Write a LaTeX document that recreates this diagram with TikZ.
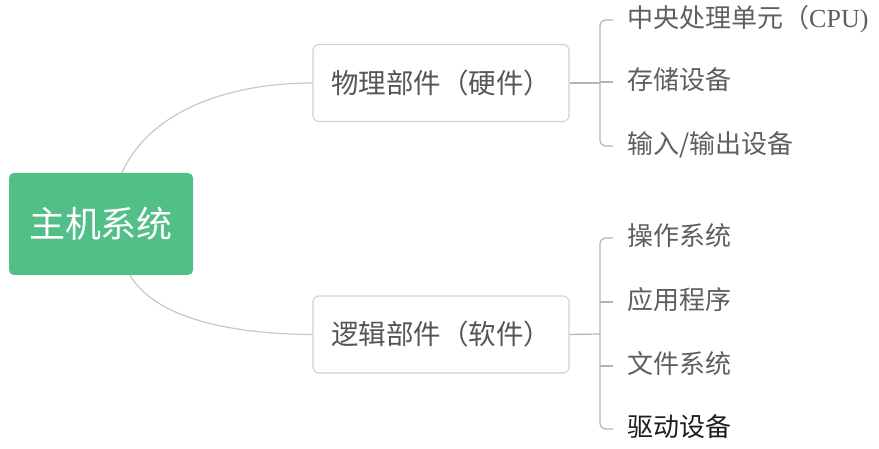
\documentclass[tikz,border=0pt]{standalone}
\usepackage{fontspec}
\setmainfont{Noto Sans CJK SC}
\newfontfamily\cjk{Noto Sans CJK SC}
\newfontfamily\latinserif{Liberation Serif}
\usetikzlibrary{calc}
\definecolor{rootgreen}{RGB}{82,190,136}
\definecolor{linegray}{RGB}{200,200,200}
\definecolor{boxgray}{RGB}{210,210,210}
\definecolor{textgray}{RGB}{85,85,85}
\definecolor{itemgray}{RGB}{95,95,95}
\definecolor{darktext}{RGB}{30,30,30}
\tikzset{
  rootbox/.style={fill=rootgreen, draw=none, rounded corners=5pt, minimum width=184pt, minimum height=102pt,
    text=white, font=\cjk\fontsize{36pt}{40pt}\selectfont, inner sep=0pt},
  midbox/.style={draw=boxgray, line width=1.1pt, fill=white, rounded corners=6pt, minimum width=256pt, minimum height=77pt,
    text=textgray, font=\cjk\fontsize{27.5pt}{31pt}\selectfont, inner sep=0pt},
  item/.style={anchor=west, inner xsep=14pt, inner ysep=0pt, text=itemgray,
    font=\cjk\fontsize{26pt}{30pt}\selectfont, text height=1.5em, text depth=0em},
  conn/.style={draw=linegray, line width=1.2pt},
  brk/.style={draw=linegray!90!black, line width=1.2pt, rounded corners=6pt}
}
\begin{document}
\begin{tikzpicture}[x=1pt, y=-1pt]
\useasboundingbox (0,0) rectangle (879,449);
\fill[white] (0,0) rectangle (879,449);

\node[rootbox] (root) at (101,224) {主机系统};
\node[midbox] (hw) at (441,83) {物理部件（硬件）};
\node[midbox] (sw) at (441,334.5) {逻辑部件（软件）};

\draw[conn] ($(root.north)+(21,0)$) .. controls (150,110) and (230,83) .. (hw.west);
\draw[conn] ($(root.south)+(29,0)$) .. controls (155,318) and (230,334) .. (sw.west);

% hardware items
\coordinate (hb) at (600,83);
\node[item] (h1) at (613,20) {中央处理单元（{\latinserif CPU)}};
\node[item] (h2) at (613,82) {存储设备};
\node[item] (h3) at (613,146) {输入/输出设备};

\draw[brk] (hw.east) -- (hb);
\draw[brk] (h1.west) -- (h1.west -| hb) -- (h3.west -| hb) -- (h3.west);
\draw[brk] (h2.west -| hb) -- (h2.west);

% software items
\coordinate (sb) at (600,334);
\node[item] (s1) at (613,238) {操作系统};
\node[item] (s2) at (613,302) {应用程序};
\node[item] (s3) at (613,366) {文件系统};
\node[item, text=darktext] (s4) at (613,429) {驱动设备};

\draw[brk] (sw.east) -- (sb);
\draw[brk] (s1.west) -- (s1.west -| sb) -- (s4.west -| sb) -- (s4.west);
\draw[brk] (s2.west -| sb) -- (s2.west);
\draw[brk] (s3.west -| sb) -- (s3.west);
\end{tikzpicture}
\end{document}
